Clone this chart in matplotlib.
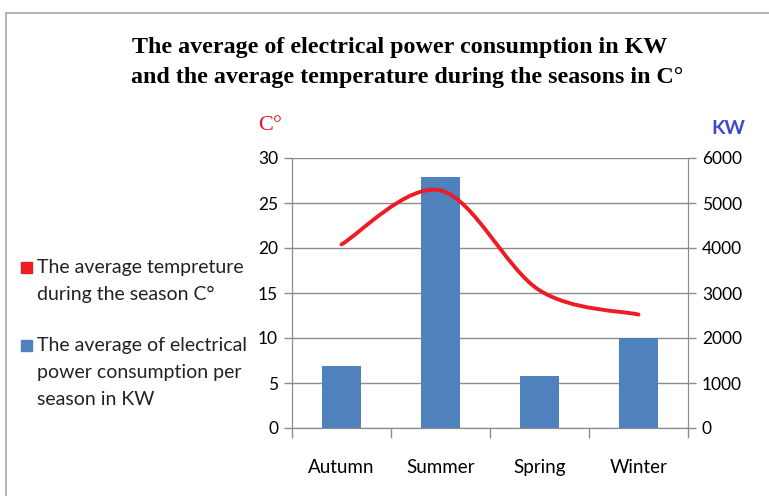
import matplotlib
matplotlib.use("Agg")
import matplotlib.pyplot as plt
from matplotlib.patches import Rectangle, PathPatch
from matplotlib.path import Path
import numpy as np

seasons = ["Autumn", "Summer", "Spring", "Winter"]
power_kw = [1380, 5580, 1150, 2000]
temperature_c = [20.4, 26.4, 15.3, 12.6]

temp_ticks = [0, 5, 10, 15, 20, 25, 30]
kw_ticks = [0, 1000, 2000, 3000, 4000, 5000, 6000]

BLUE = "#4f81bd"
RED = "#ee1c25"
GRID = "#8c8c8c"
FONT = "Lato"


def smooth_path(xs, ys):
    # Excel-like smoothed line: Catmull-Rom segments as cubic Bezier curves
    pts = np.column_stack([xs, ys]).astype(float)
    verts = [pts[0]]
    codes = [Path.MOVETO]
    n = len(pts)
    for i in range(n - 1):
        p0 = pts[i - 1] if i > 0 else pts[i]
        p1, p2 = pts[i], pts[i + 1]
        p3 = pts[i + 2] if i + 2 < n else pts[i + 1]
        c1 = p1 + (p2 - p0) / 6.0
        c2 = p2 - (p3 - p1) / 6.0
        verts += [c1, c2, p2]
        codes += [Path.CURVE4] * 3
    return Path(verts, codes)


fig = plt.figure(figsize=(7.69, 4.96), dpi=100)
ax = fig.add_axes([292 / 769, 1 - 428 / 496, 396 / 769, 270 / 496])
ax2 = ax.twinx()

x = np.arange(len(seasons))
ax2.bar(x, power_kw, width=0.39, color=BLUE, zorder=2)
ax2.set_ylim(0, 6000)
ax2.set_yticks(kw_ticks)

ax.set_ylim(0, 30)
ax.set_yticks(temp_ticks)
ax.set_xlim(-0.5, len(seasons) - 0.5)
ax.set_xticks(x)
ax.set_xticklabels(seasons)
ax.set_xticks(np.arange(len(seasons) + 1) - 0.5, minor=True)
ax.tick_params(axis="x", which="major", length=0, pad=22)
ax.tick_params(axis="x", which="minor", length=7, color=GRID, width=1)
ax.yaxis.grid(True, color=GRID, linewidth=1)
ax.set_axisbelow(True)

# line on top of bars: draw it on ax2 in the temperature scale
ax2.add_patch(PathPatch(smooth_path(x, np.array(temperature_c) * 200),
                        facecolor="none", edgecolor=RED, linewidth=2.8,
                        capstyle="round", zorder=3))

for a in (ax, ax2):
    for s in a.spines.values():
        s.set_color(GRID)
    a.spines["top"].set_visible(False)
    a.tick_params(axis="y", length=6, color=GRID, width=1, labelsize=12.5, pad=4)
    for lab in a.get_yticklabels():
        lab.set_fontfamily(FONT)
ax.tick_params(axis="x", labelsize=13.5)
for lab in ax.get_xticklabels():
    lab.set_fontfamily(FONT)
ax.patch.set_visible(False)

fig.text(270 / 769, 1 - 126 / 496, "C°", color="#e8161d", fontsize=16,
         family="Liberation Serif", ha="center", va="center")
fig.text(728 / 769, 1 - 128 / 496, "KW", color="#3f48cc", fontsize=14,
         family=FONT, fontweight="bold", ha="center", va="center")

fig.text(400 / 769, 1 - 47 / 496, "The average of electrical power consumption in KW",
         family="Liberation Serif", fontweight="bold", fontsize=17.3, ha="center", va="center")
fig.text(407 / 769, 1 - 77 / 496, "and the average temperature during the seasons in C°",
         family="Liberation Serif", fontweight="bold", fontsize=17.3, ha="center", va="center")

# legend drawn by hand so the swatch sits on the first text line
legend_items = [
    (RED, "The average tempreture\nduring the season C°", 267),
    (BLUE, "The average of electrical\npower consumption per\nseason in KW", 345),
]
for color, label, ypix in legend_items:
    fig.add_artist(Rectangle((21 / 769, 1 - (ypix + 6) / 496), 11 / 769, 11 / 496,
                             transform=fig.transFigure, color=color))
    fig.text(37 / 769, 1 - (ypix - 8) / 496, label, family=FONT, fontsize=14,
             ha="left", va="top", linespacing=1.72, color="#222222")

fig.add_artist(Rectangle((6 / 769, -0.1), 1.2, 1.1 - 13 / 496, transform=fig.transFigure,
                         fill=False, edgecolor="#a6a6a6", linewidth=1.2))

fig.savefig("out.png", dpi=100)
